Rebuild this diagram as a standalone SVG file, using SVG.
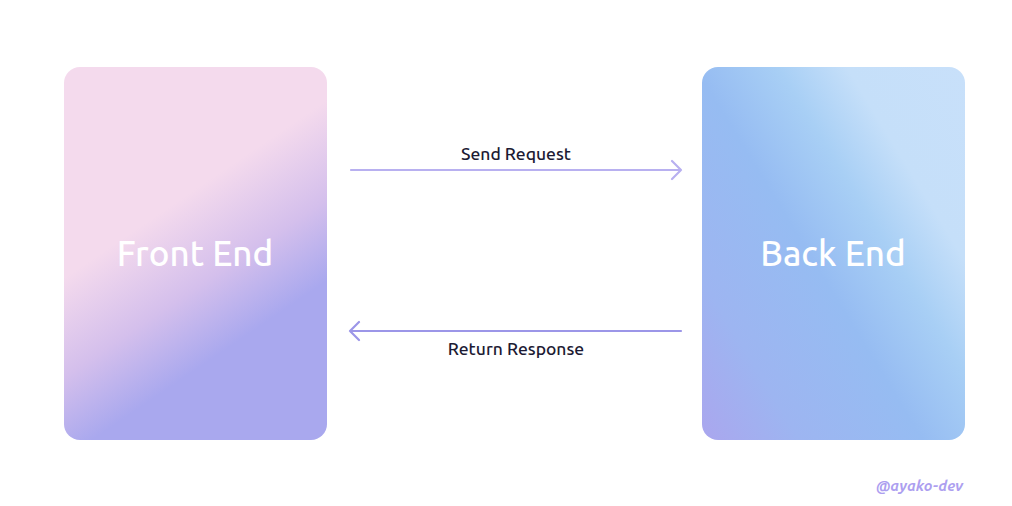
<svg xmlns="http://www.w3.org/2000/svg" width="1012" height="506" viewBox="0 0 1012 506">
<style>
.title{font-family:"Ubuntu","Noto Sans","Open Sans",sans-serif;font-size:35px;fill:#ffffff;text-anchor:middle;font-weight:500}
.lbl{font-family:"Ubuntu","Noto Sans","Open Sans",sans-serif;font-size:17.5px;fill:#1c1a33;text-anchor:middle;font-weight:500}
.conn{fill:none;stroke-width:2.2;stroke-linecap:round;stroke-linejoin:round}
.sig{font-family:"Ubuntu","DejaVu Sans","Noto Sans",sans-serif;font-size:15px;font-style:italic;font-weight:bold;fill:#ad9ff0}
</style>
<defs>
<linearGradient id="gFront" gradientUnits="userSpaceOnUse" x1="197" y1="188" x2="281" y2="312">
<stop offset="0" stop-color="#f4daed"/>
<stop offset="0.55" stop-color="#d4bfec"/>
<stop offset="1" stop-color="#a9a8ee"/>
</linearGradient>
<linearGradient id="gBack" gradientUnits="userSpaceOnUse" x1="702" y1="440" x2="1059" y2="222">
<stop offset="0" stop-color="#aaa6ee"/>
<stop offset="0.2" stop-color="#9db5f1"/>
<stop offset="0.45" stop-color="#96bcf2"/>
<stop offset="0.62" stop-color="#a8cff5"/>
<stop offset="0.76" stop-color="#c5dff9"/>
<stop offset="1" stop-color="#c8e0fa"/>
</linearGradient>
</defs>
<rect width="1012" height="506" fill="#ffffff"/>
<g id="front-end">
<rect x="64" y="67" width="263" height="373" rx="16" fill="url(#gFront)"/>
<text class="title" x="195" y="266">Front End</text>
</g>
<g id="back-end">
<rect x="702" y="67" width="263" height="373" rx="16" fill="url(#gBack)"/>
<text class="title" x="833" y="266">Back End</text>
</g>
<g id="connectors">
<path class="conn" stroke="#b8b0f0" d="M351 170 H681 M672 161 L681 170 L672 179"/>
<text class="lbl" x="516" y="160">Send Request</text>
<path class="conn" stroke="#9c96e8" d="M681 331 H350 M359 322 L350 331 L359 340"/>
<text class="lbl" x="516" y="355">Return Response</text>
</g>
<text class="sig" x="876" y="491">@ayako-dev</text>
</svg>
